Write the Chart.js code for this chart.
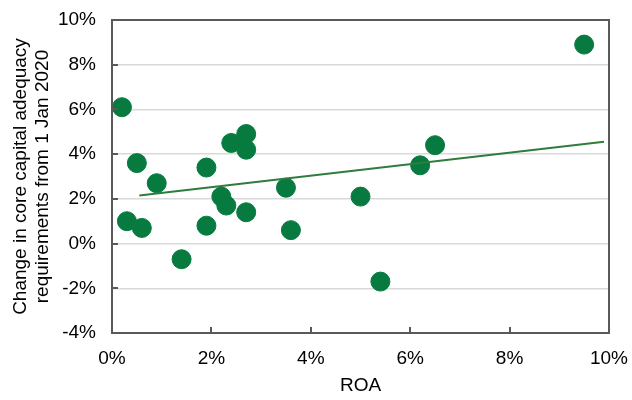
<!DOCTYPE html>
<html>
<head>
<meta charset="utf-8">
<script src="https://cdn.jsdelivr.net/npm/chart.js@4"></script>
<style>
    html, body { margin: 0; padding: 0; background: #fff; }
    #wrap { width: 632px; height: 400px; }
</style>
</head>
<body>
<div id="wrap"><canvas id="chart"></canvas></div>
<script>
// Données (en %)
const roa = [0.2, 0.3, 0.5, 0.6, 0.9, 1.4, 1.9, 1.9, 2.2, 2.3, 2.4, 2.7, 2.7, 2.7, 3.5, 3.6, 5.0, 5.4, 6.2, 6.5, 9.5];
const capitalChange = [6.1, 1.0, 3.6, 0.7, 2.7, -0.7, 3.4, 0.8, 2.1, 1.7, 4.5, 4.9, 4.2, 1.4, 2.5, 0.6, 2.1, -1.7, 3.5, 4.4, 8.9];

// Droite de tendance (extrémités)
const trendX = [0.55, 9.9];
const trendY = [2.15, 4.55];

const xTicks = [0, 2, 4, 6, 8, 10];
const yTicks = [-4, -2, 0, 2, 4, 6, 8, 10];

const axisColor = '#595959';
const green = '#077a3f';

// Cadre + graduations intérieures
const framePlugin = {
    id: 'frame',
    afterDraw(chart) {
        const { ctx, chartArea: a, scales } = chart;
        ctx.save();
        ctx.strokeStyle = axisColor;
        ctx.lineWidth = 2;
        ctx.strokeRect(a.left, a.top, a.right - a.left, a.bottom - a.top);
        ctx.beginPath();
        xTicks.forEach(v => {
            const x = Math.round(scales.x.getPixelForValue(v));
            ctx.moveTo(x, a.bottom);
            ctx.lineTo(x, a.bottom - 6);
        });
        yTicks.forEach(v => {
            const y = Math.round(scales.y.getPixelForValue(v));
            ctx.moveTo(a.left, y);
            ctx.lineTo(a.left + 6, y);
        });
        ctx.stroke();
        ctx.restore();
    }
};

const font = { family: '"Liberation Sans", Arial, sans-serif', size: 19 };

new Chart(document.getElementById('chart'), {
    type: 'scatter',
    data: {
        datasets: [{
            label: 'Banks',
            data: roa.map((x, i) => ({ x: x, y: capitalChange[i] })),
            backgroundColor: green,
            borderColor: green,
            pointRadius: 9.5,
            pointHoverRadius: 9.5,
            order: 2
        }, {
            label: 'Trend',
            data: trendX.map((x, i) => ({ x: x, y: trendY[i] })),
            showLine: true,
            borderColor: '#2f7d3c',
            borderWidth: 2,
            pointRadius: 0,
            order: 1
        }]
    },
    options: {
        responsive: true,
        maintainAspectRatio: false,
        animation: false,
        layout: { padding: { top: 20, right: 23, left: 0, bottom: 0 } },
        plugins: {
            legend: { display: false },
            tooltip: { enabled: false }
        },
        scales: {
            x: {
                type: 'linear',
                min: 0,
                max: 10,
                afterBuildTicks: s => { s.ticks = xTicks.map(v => ({ value: v })); },
                afterFit: s => {
                    s.height = 67;
                    s.paddingLeft = 0;
                    s.paddingRight = 0;
                },
                grid: { display: false, drawTicks: false },
                border: { display: false },
                ticks: {
                    color: '#000',
                    font: font,
                    padding: 14,
                    callback: v => v + '%'
                },
                title: {
                    display: true,
                    text: 'ROA',
                    color: '#000',
                    font: font,
                    padding: { top: 0, bottom: 3 }
                }
            },
            y: {
                type: 'linear',
                min: -4,
                max: 10,
                afterBuildTicks: s => { s.ticks = yTicks.map(v => ({ value: v })); },
                afterFit: s => {
                    s.width = 112;
                    s.paddingTop = 0;
                    s.paddingBottom = 0;
                },
                grid: { color: '#d9d9d9', lineWidth: 1.5, drawTicks: false },
                border: { display: false },
                ticks: {
                    color: '#000',
                    font: font,
                    padding: 16,
                    callback: v => v + '%'
                },
                title: {
                    display: true,
                    text: ['Change in core capital adequacy', 'requirements from 1 Jan 2020'],
                    color: '#000',
                    font: { family: font.family, size: 19, lineHeight: 1.2 },
                    padding: { top: 9, bottom: 0 }
                }
            }
        }
    },
    plugins: [framePlugin]
});
</script>
</body>
</html>
